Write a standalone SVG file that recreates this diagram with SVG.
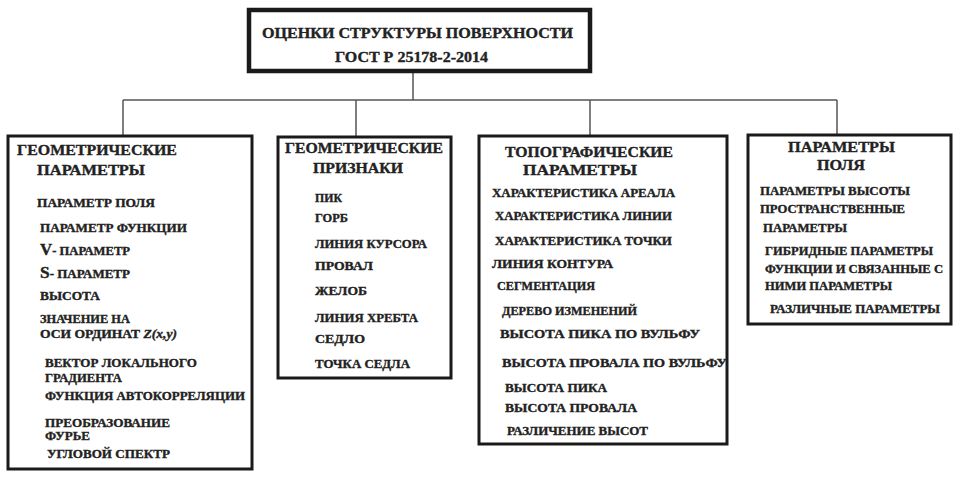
<svg xmlns="http://www.w3.org/2000/svg" width="961" height="479" viewBox="0 0 961 479">
<style>
.box{fill:#fff;stroke:#1a1a1a;stroke-width:3}
.top{fill:#fff;stroke:#1a1a1a;stroke-width:4.5}
.c{fill:none;stroke:#555;stroke-width:1.5}
text{font-family:"Liberation Serif","Times New Roman",serif;font-weight:bold;fill:#222;stroke:#222;stroke-width:0.35}
.h{font-size:15px}
.i{font-size:12px}
</style>
<rect width="961" height="479" fill="#fff"/>
<g id="connectors">
<path class="c" d="M413 72V100M123 100H837M123 100V135M356 100V136M590 100V135M837 100V134"/>
</g>
<g id="root">
<rect class="top" x="249" y="10" width="341" height="61"/>
<text class="h" x="262" y="38" textLength="311" lengthAdjust="spacingAndGlyphs">ОЦЕНКИ СТРУКТУРЫ ПОВЕРХНОСТИ</text>
<text class="h" x="335" y="62" textLength="153" lengthAdjust="spacingAndGlyphs">ГОСТ Р 25178-2-2014</text>
</g>
<g id="geom-params">
<rect class="box" x="8" y="136" width="244" height="333"/>
<text class="h" x="17" y="155" textLength="160" lengthAdjust="spacingAndGlyphs">ГЕОМЕТРИЧЕСКИЕ</text>
<text class="h" x="37" y="175" textLength="108" lengthAdjust="spacingAndGlyphs">ПАРАМЕТРЫ</text>
<text class="i" x="37" y="207" textLength="118" lengthAdjust="spacingAndGlyphs">ПАРАМЕТР  ПОЛЯ</text>
<text class="i" x="40" y="232" textLength="147" lengthAdjust="spacingAndGlyphs">ПАРАМЕТР  ФУНКЦИИ</text>
<text class="i" x="40" y="255" textLength="90" lengthAdjust="spacingAndGlyphs"><tspan font-size="16">V</tspan>- ПАРАМЕТР</text>
<text class="i" x="40" y="278" textLength="90" lengthAdjust="spacingAndGlyphs"><tspan font-size="16">S</tspan>- ПАРАМЕТР</text>
<text class="i" x="40" y="300" textLength="60" lengthAdjust="spacingAndGlyphs">ВЫСОТА</text>
<text class="i" x="40" y="323" textLength="90" lengthAdjust="spacingAndGlyphs">ЗНАЧЕНИЕ НА</text>
<text class="i" x="40" y="338" textLength="137" lengthAdjust="spacingAndGlyphs">ОСИ ОРДИНАТ  <tspan font-style="italic">Z(x,y)</tspan></text>
<text class="i" x="45" y="367" textLength="152" lengthAdjust="spacingAndGlyphs">ВЕКТОР ЛОКАЛЬНОГО</text>
<text class="i" x="45" y="382" textLength="77" lengthAdjust="spacingAndGlyphs">ГРАДИЕНТА</text>
<text class="i" x="45" y="400" textLength="200" lengthAdjust="spacingAndGlyphs">ФУНКЦИЯ  АВТОКОРРЕЛЯЦИИ</text>
<text class="i" x="45" y="427" textLength="125" lengthAdjust="spacingAndGlyphs">ПРЕОБРАЗОВАНИЕ</text>
<text class="i" x="45" y="440" textLength="45" lengthAdjust="spacingAndGlyphs">ФУРЬЕ</text>
<text class="i" x="47" y="458" textLength="123" lengthAdjust="spacingAndGlyphs">УГЛОВОЙ СПЕКТР</text>
</g>
<g id="geom-features">
<rect class="box" x="278" y="137" width="173" height="241"/>
<text class="h" x="285" y="153" textLength="158" lengthAdjust="spacingAndGlyphs">ГЕОМЕТРИЧЕСКИЕ</text>
<text class="h" x="313" y="173" textLength="90" lengthAdjust="spacingAndGlyphs">ПРИЗНАКИ</text>
<text class="i" x="315" y="202" textLength="27" lengthAdjust="spacingAndGlyphs">ПИК</text>
<text class="i" x="315" y="222" textLength="33" lengthAdjust="spacingAndGlyphs">ГОРБ</text>
<text class="i" x="315" y="248" textLength="112" lengthAdjust="spacingAndGlyphs">ЛИНИЯ КУРСОРА</text>
<text class="i" x="315" y="270" textLength="58" lengthAdjust="spacingAndGlyphs">ПРОВАЛ</text>
<text class="i" x="315" y="295" textLength="52" lengthAdjust="spacingAndGlyphs">ЖЕЛОБ</text>
<text class="i" x="315" y="322" textLength="103" lengthAdjust="spacingAndGlyphs">ЛИНИЯ ХРЕБТА</text>
<text class="i" x="315" y="343" textLength="50" lengthAdjust="spacingAndGlyphs">СЕДЛО</text>
<text class="i" x="315" y="368" textLength="95" lengthAdjust="spacingAndGlyphs">ТОЧКА СЕДЛА</text>
</g>
<g id="topo-params">
<rect class="box" x="479" y="136" width="248" height="308"/>
<text class="h" x="505" y="157" textLength="168" lengthAdjust="spacingAndGlyphs">ТОПОГРАФИЧЕСКИЕ</text>
<text class="h" x="523" y="175" textLength="114" lengthAdjust="spacingAndGlyphs">ПАРАМЕТРЫ</text>
<text class="i" x="492" y="197" textLength="183" lengthAdjust="spacingAndGlyphs">ХАРАКТЕРИСТИКА  АРЕАЛА</text>
<text class="i" x="495" y="220" textLength="177" lengthAdjust="spacingAndGlyphs">ХАРАКТЕРИСТИКА  ЛИНИИ</text>
<text class="i" x="495" y="245" textLength="177" lengthAdjust="spacingAndGlyphs">ХАРАКТЕРИСТИКА  ТОЧКИ</text>
<text class="i" x="492" y="268" textLength="121" lengthAdjust="spacingAndGlyphs">ЛИНИЯ  КОНТУРА</text>
<text class="i" x="497" y="290" textLength="98" lengthAdjust="spacingAndGlyphs">СЕГМЕНТАЦИЯ</text>
<text class="i" x="502" y="315" textLength="135" lengthAdjust="spacingAndGlyphs">ДЕРЕВО  ИЗМЕНЕНИЙ</text>
<text class="i" x="500" y="338" textLength="200" lengthAdjust="spacingAndGlyphs">ВЫСОТА ПИКА ПО  ВУЛЬФУ</text>
<text class="i" x="502" y="367" textLength="225" lengthAdjust="spacingAndGlyphs">ВЫСОТА ПРОВАЛА ПО ВУЛЬФУ</text>
<text class="i" x="505" y="392" textLength="102" lengthAdjust="spacingAndGlyphs">ВЫСОТА ПИКА</text>
<text class="i" x="505" y="412" textLength="132" lengthAdjust="spacingAndGlyphs">ВЫСОТА ПРОВАЛА</text>
<text class="i" x="507" y="435" textLength="141" lengthAdjust="spacingAndGlyphs">РАЗЛИЧЕНИЕ  ВЫСОТ</text>
</g>
<g id="field-params">
<rect class="box" x="748" y="135" width="203" height="189"/>
<text class="h" x="788" y="152" textLength="107" lengthAdjust="spacingAndGlyphs">ПАРАМЕТРЫ</text>
<text class="h" x="817" y="170" textLength="48" lengthAdjust="spacingAndGlyphs">ПОЛЯ</text>
<text class="i" x="760" y="195" textLength="150" lengthAdjust="spacingAndGlyphs">ПАРАМЕТРЫ ВЫСОТЫ</text>
<text class="i" x="760" y="213" textLength="145" lengthAdjust="spacingAndGlyphs">ПРОСТРАНСТВЕННЫЕ</text>
<text class="i" x="763" y="232" textLength="84" lengthAdjust="spacingAndGlyphs">ПАРАМЕТРЫ</text>
<text class="i" x="765" y="255" textLength="168" lengthAdjust="spacingAndGlyphs">ГИБРИДНЫЕ ПАРАМЕТРЫ</text>
<text class="i" x="765" y="273" textLength="178" lengthAdjust="spacingAndGlyphs">ФУНКЦИИ И СВЯЗАННЫЕ С</text>
<text class="i" x="765" y="290" textLength="127" lengthAdjust="spacingAndGlyphs">НИМИ ПАРАМЕТРЫ</text>
<text class="i" x="770" y="313" textLength="170" lengthAdjust="spacingAndGlyphs">РАЗЛИЧНЫЕ ПАРАМЕТРЫ</text>
</g>
</svg>
